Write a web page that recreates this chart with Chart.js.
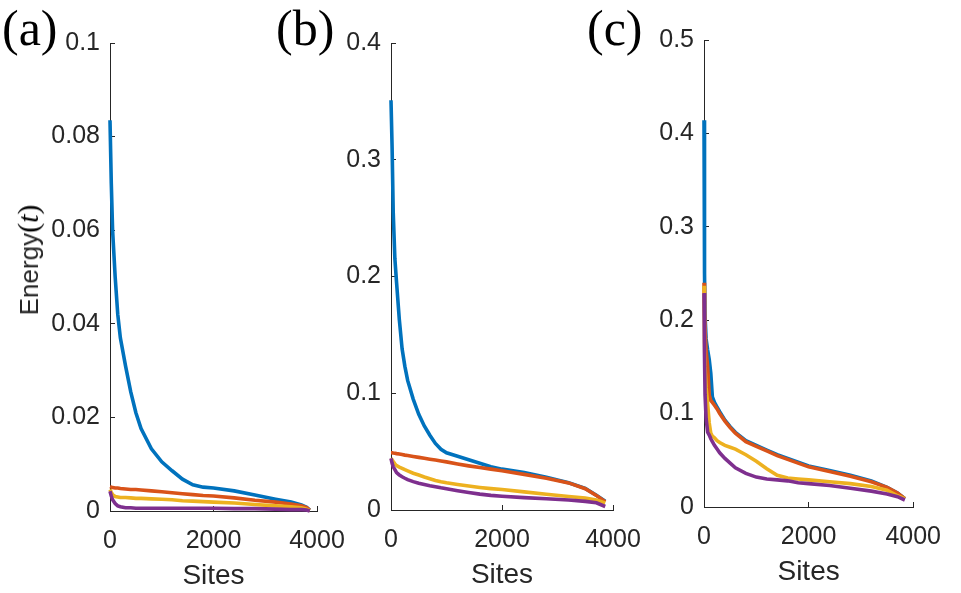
<!DOCTYPE html>
<html>
<head>
<meta charset="utf-8">
<script src="https://cdn.jsdelivr.net/npm/chart.js@4.4.0/dist/chart.umd.min.js"></script>
<style>
  html, body { margin: 0; padding: 0; background: #fff; }
  #wrap { position: relative; width: 961px; height: 593px; overflow: hidden; }
  #wrap canvas { position: absolute; left: 0; top: 0; }
  .tag { position: absolute; font-family: "Liberation Serif", "Times New Roman", serif; font-size: 50px; line-height: 50px; color: #000; }
  #ylab { position: absolute; left: 28px; top: 260px; transform: translate(-50%, -50%) rotate(-90deg);
          white-space: nowrap; line-height: 1; color: #262626; font-family: "Liberation Sans", Arial, sans-serif; font-size: 26px; }
  #ylab .m { font-family: "Liberation Serif", "Times New Roman", serif; font-size: 30px; color: #000; }
</style>
</head>
<body>
<div id="wrap">
  <canvas id="chart-a" width="961" height="593"></canvas>
  <canvas id="chart-b" width="961" height="593"></canvas>
  <canvas id="chart-c" width="961" height="593"></canvas>
  <div class="tag" style="left:2px;top:3px">(a)</div>
  <div class="tag" style="left:276px;top:3px">(b)</div>
  <div class="tag" style="left:587px;top:3px">(c)</div>
  <div id="ylab">Energy<span class="m">(<i>t</i>)</span></div>
</div>
<script>
const xTitle = "Sites";
const seriesColors = ["#0072BD", "#D95319", "#EDB120", "#7E2F8E"];

// panel (a)
const sitesA = [0, 25, 50, 100, 150, 200, 300, 400, 500, 600, 800, 1000, 1200, 1400, 1600, 1800, 2000, 2400, 2800, 3200, 3500, 3700, 3800, 3860];
const blueA = [0.0835, 0.070, 0.060, 0.050, 0.042, 0.037, 0.031, 0.0255, 0.021, 0.0176, 0.0133, 0.0105, 0.0086, 0.0068, 0.0056, 0.0051, 0.0049, 0.0043, 0.0034, 0.0025, 0.0019, 0.0013, 0.0008, 0.0002];
const orangeA = [0.0052, 0.0051, 0.0050, 0.0049, 0.0049, 0.0048, 0.0047, 0.0046, 0.0046, 0.0045, 0.0043, 0.0041, 0.0039, 0.0037, 0.0035, 0.0033, 0.0032, 0.0028, 0.0023, 0.0019, 0.0015, 0.0011, 0.0007, 0.0002];
const yellowA = [0.0046, 0.0040, 0.0035, 0.0031, 0.0030, 0.0029, 0.0029, 0.0028, 0.0027, 0.0027, 0.0026, 0.0025, 0.0024, 0.0022, 0.0021, 0.0020, 0.0019, 0.0017, 0.0014, 0.0011, 0.0009, 0.0007, 0.0004, 0.0001];
const purpleA = [0.0042, 0.0032, 0.0024, 0.0016, 0.0011, 0.0009, 0.0007, 0.0007, 0.0006, 0.0006, 0.0006, 0.0006, 0.0006, 0.0006, 0.0006, 0.0006, 0.0006, 0.0005, 0.0005, 0.0004, 0.0003, 0.0003, 0.0002, 0.0000];

// panel (b)
const sitesB = [0, 20, 40, 70, 100, 150, 200, 250, 300, 400, 500, 600, 700, 800, 900, 1000, 1200, 1400, 1600, 1800, 2000, 2400, 2800, 3200, 3500, 3700, 3860];
const blueB = [0.351, 0.31, 0.255, 0.215, 0.195, 0.163, 0.138, 0.123, 0.111, 0.095, 0.082, 0.072, 0.064, 0.057, 0.052, 0.049, 0.046, 0.043, 0.040, 0.037, 0.035, 0.032, 0.028, 0.0234, 0.0185, 0.0127, 0.0075];
const orangeB = [0.049, 0.049, 0.0488, 0.0486, 0.0483, 0.048, 0.0475, 0.047, 0.0466, 0.0458, 0.0451, 0.0443, 0.0435, 0.0428, 0.042, 0.0412, 0.0394, 0.0378, 0.0364, 0.035, 0.0336, 0.0305, 0.0272, 0.0232, 0.0182, 0.0125, 0.007];
const yellowB = [0.0443, 0.043, 0.0415, 0.0395, 0.038, 0.0367, 0.0357, 0.0345, 0.0335, 0.0315, 0.030, 0.0283, 0.0268, 0.0253, 0.0242, 0.0233, 0.0218, 0.0205, 0.0193, 0.0183, 0.0175, 0.0155, 0.0135, 0.0116, 0.0102, 0.0085, 0.006];
const purpleB = [0.0443, 0.040, 0.037, 0.0345, 0.032, 0.030, 0.0285, 0.0272, 0.026, 0.0243, 0.0229, 0.0218, 0.0208, 0.020, 0.019, 0.0182, 0.0165, 0.015, 0.0136, 0.0125, 0.0118, 0.0106, 0.0096, 0.0085, 0.0074, 0.0062, 0.003];

// panel (c)
const sitesC = [0, 10, 20, 40, 70, 100, 130, 160, 200, 250, 300, 400, 500, 600, 800, 1000, 1200, 1400, 1600, 1800, 2000, 2400, 2800, 3200, 3500, 3700, 3840];
const blueC = [0.414, 0.25, 0.205, 0.18, 0.168, 0.158, 0.143, 0.118, 0.112, 0.107, 0.102, 0.093, 0.086, 0.080, 0.071, 0.066, 0.061, 0.056, 0.052, 0.048, 0.044, 0.039, 0.034, 0.028, 0.021, 0.015, 0.009];
const orangeC = [0.240, 0.21, 0.19, 0.168, 0.150, 0.120, 0.114, 0.112, 0.109, 0.105, 0.100, 0.092, 0.085, 0.079, 0.070, 0.065, 0.060, 0.055, 0.051, 0.047, 0.043, 0.038, 0.033, 0.027, 0.021, 0.015, 0.009];
const yellowC = [0.237, 0.175, 0.150, 0.128, 0.110, 0.090, 0.079, 0.076, 0.074, 0.071, 0.069, 0.066, 0.064, 0.062, 0.056, 0.049, 0.041, 0.034, 0.031, 0.030, 0.029, 0.027, 0.025, 0.022, 0.018, 0.012, 0.009];
const purpleC = [0.229, 0.16, 0.12, 0.095, 0.080, 0.077, 0.073, 0.070, 0.066, 0.062, 0.058, 0.052, 0.047, 0.042, 0.036, 0.032, 0.030, 0.029, 0.028, 0.026, 0.025, 0.023, 0.020, 0.017, 0.014, 0.011, 0.0075];

const axisColor = "#262626";
const tickFont = { family: "'Liberation Sans', Arial, sans-serif", size: 25 };
const xAxisHeight = 82;

function toPoints(sites, values) {
  return sites.map((s, i) => ({ x: s, y: values[i] }));
}

function makePanel(canvasId, sites, seriesList, yMax, yStep, box) {
  const datasets = seriesList.map((values, index) => ({
    data: toPoints(sites, values),
    borderColor: seriesColors[index],
    borderWidth: 3.6,
    pointRadius: 0,
    tension: 0,
    fill: false,
    clip: false,
    order: seriesList.length - index,
  }));

  new Chart(document.getElementById(canvasId), {
    type: "line",
    data: { datasets },
    options: {
      responsive: false,
      animation: false,
      events: [],
      layout: { padding: { left: box.padLeft, right: 961 - box.right, top: box.top, bottom: 593 - box.bottom - xAxisHeight } },
      plugins: { legend: { display: false }, tooltip: { enabled: false } },
      scales: {
        x: {
          type: "linear",
          min: 0,
          max: 4000,
          afterFit: (scale) => { scale.height = xAxisHeight; },
          ticks: { stepSize: 2000, color: axisColor, font: tickFont, padding: 20, maxRotation: 0, callback: (v) => String(v) },
          grid: { drawOnChartArea: false, tickLength: -5, color: axisColor },
          border: { color: axisColor, width: 1 },
          title: { display: true, text: xTitle, color: axisColor, font: { family: tickFont.family, size: 28 }, padding: { top: 0, bottom: 0 } },
        },
        y: {
          type: "linear",
          min: 0,
          max: yMax,
          afterFit: (scale) => { scale.width = box.axisWidth; },
          ticks: { stepSize: yStep, color: axisColor, font: tickFont, padding: 15, callback: (v) => String(+v.toFixed(3)) },
          grid: { drawOnChartArea: false, tickLength: -5, color: axisColor },
          border: { color: axisColor, width: 1 },
        },
      },
    },
  });
}

makePanel("chart-a", sitesA, [blueA, orangeA, yellowA, purpleA], 0.1, 0.02,
  { padLeft: 0, axisWidth: 110, right: 317, top: 43, bottom: 511 });
makePanel("chart-b", sitesB, [blueB, orangeB, yellowB, purpleB], 0.4, 0.1,
  { padLeft: 311, axisWidth: 80, right: 613, top: 43, bottom: 510 });
makePanel("chart-c", sitesC, [blueC, orangeC, yellowC, purpleC], 0.5, 0.1,
  { padLeft: 624, axisWidth: 80, right: 927, top: 40, bottom: 507 });
</script>
</body>
</html>
